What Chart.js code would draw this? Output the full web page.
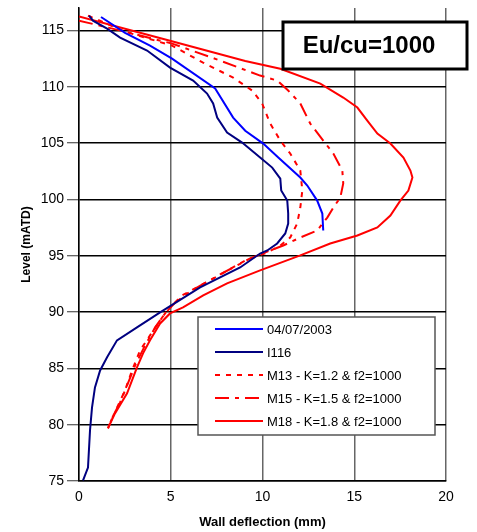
<!DOCTYPE html>
<html>
<head>
<meta charset="utf-8">
<script src="https://cdn.jsdelivr.net/npm/chart.js@4"></script>
<style>
  html, body { margin: 0; padding: 0; background: #fff; }
  #wrap { width: 477px; height: 532px; }
</style>
</head>
<body>
<div id="wrap"><canvas id="chartDeflection" width="477" height="532"></canvas></div>
<script>
// ---- data (deflection mm, level mATD) ----
const blueX = [1.20, 2.51, 3.87, 5.07, 7.42, 8.40, 9.06, 10.04, 10.86, 12.06, 12.44, 12.98, 13.26, 13.31];
const blueY = [116.2, 114.8, 113.66, 112.5, 109.85, 107.27, 106.1, 104.96, 103.72, 101.95, 101.24, 99.9, 98.75, 97.24];

const i116X = [0.55, 0.76, 1.53, 2.24, 3.71, 4.96, 6.22, 6.98, 7.31, 7.53, 8.07, 8.89, 9.87, 10.53, 10.97, 11.02, 11.35, 11.40, 11.40, 11.24, 10.80, 10.26, 9.87, 8.78, 6.60, 4.42, 3.16, 2.07, 1.53, 1.15, 0.87, 0.71, 0.60, 0.49, 0.22];
const i116Y = [116.32, 115.88, 115.17, 114.37, 113.22, 111.71, 110.56, 109.4, 108.52, 107.27, 105.94, 105.05, 103.72, 102.83, 101.85, 100.79, 99.9, 98.75, 97.86, 96.98, 96.09, 95.47, 95.2, 93.96, 92.19, 89.97, 88.64, 87.49, 85.98, 84.82, 83.31, 81.54, 79.5, 76.2, 75.06];

const m13X = [0.49, 2.51, 5.07, 6.76, 8.40, 9.44, 9.98, 10.42, 10.97, 11.51, 12.06, 12.17, 12.06, 11.89, 11.51, 10.97, 10.26, 9.06, 7.42, 5.62, 5.07, 4.53, 3.87, 3.33, 2.89, 2.51, 2.13, 1.80, 1.58];
const m13Y = [116.32, 114.9, 113.66, 112.15, 110.82, 109.67, 108.52, 106.74, 105.23, 104.08, 102.57, 100.79, 99.28, 97.86, 96.62, 95.91, 95.29, 94.58, 93.07, 91.48, 90.59, 89.52, 87.93, 86.6, 84.82, 83.05, 81.72, 80.56, 79.68];

const m15X = [0, 2.51, 5.07, 7.69, 9.87, 10.80, 11.40, 12.06, 12.60, 13.31, 13.86, 14.35, 14.40, 14.24, 13.86, 13.53, 12.98, 12.06, 11.13, 10.42, 9.33, 7.69, 6.06, 5.24, 4.69, 4.15, 3.60, 3.06, 2.62, 2.24, 1.85, 1.58];
const m15Y = [115.88, 114.9, 113.84, 112.33, 111.0, 110.56, 109.67, 108.52, 106.74, 105.23, 104.08, 102.57, 101.42, 100.17, 99.28, 98.39, 97.24, 96.62, 95.91, 95.47, 94.76, 93.34, 91.83, 90.85, 89.88, 88.64, 87.04, 85.27, 83.49, 81.98, 80.74, 79.68];

const m18X = [0, 4.96, 9.06, 10.97, 13.15, 14.40, 15.17, 15.71, 16.26, 16.97, 17.68, 18.06, 18.17, 17.95, 17.51, 16.97, 16.26, 15.17, 13.69, 12.06, 9.87, 8.07, 6.77, 5.67, 4.96, 4.42, 3.87, 3.49, 3.16, 2.62, 1.96, 1.58];
const m18Y = [116.24, 114.1, 112.3, 111.6, 110.29, 109.05, 108.16, 107.0, 105.85, 104.97, 103.72, 102.57, 101.95, 100.79, 99.9, 98.57, 97.51, 96.8, 96.09, 95.03, 93.7, 92.55, 91.48, 90.41, 89.88, 88.99, 87.49, 86.33, 85.09, 82.78, 81.0, 79.68];

const seriesNames = ["04/07/2003", "I116", "M13 - K=1.2 & f2=1000", "M15 - K=1.5 & f2=1000", "M18 - K=1.8 & f2=1000"];
const xTicks = [0, 5, 10, 15, 20];
const yTicks = [75, 80, 85, 90, 95, 100, 105, 110, 115];
const chartLabel = "Eu/cu=1000";

const toPts = (xs, ys) => xs.map((x, i) => ({ x: x, y: ys[i] }));

const styles = [
  { color: "#0000ff", dash: [] },
  { color: "#000080", dash: [] },
  { color: "#ff0000", dash: [5, 6] },
  { color: "#ff0000", dash: [14, 6, 4, 6] },
  { color: "#ff0000", dash: [] }
];
const pts = [toPts(blueX, blueY), toPts(i116X, i116Y), toPts(m13X, m13Y), toPts(m15X, m15Y), toPts(m18X, m18Y)];

// legend inside the plot + framed label top right
const boxesPlugin = {
  id: "boxes",
  afterDatasetsDraw(chart) {
    const c = chart.ctx;
    c.save();
    // label box
    c.fillStyle = "#fff";
    c.fillRect(283, 22, 184, 47);
    c.strokeStyle = "#000";
    c.lineWidth = 3;
    c.strokeRect(283, 22, 184, 47);
    c.fillStyle = "#000";
    c.font = "bold 24px 'Liberation Sans', Arial, sans-serif";
    c.textAlign = "center";
    c.textBaseline = "middle";
    c.fillText(chartLabel, 369, 46);

    // legend
    c.fillStyle = "#fff";
    c.fillRect(198, 317, 237, 118);
    c.strokeStyle = "#555";
    c.lineWidth = 1.5;
    c.strokeRect(198, 317, 237, 118);
    c.font = "13px 'Liberation Sans', Arial, sans-serif";
    c.textAlign = "left";
    chart.data.datasets.forEach((ds, i) => {
      const y = 329 + i * 23;
      c.strokeStyle = ds.borderColor;
      c.lineWidth = 2;
      c.setLineDash(ds.borderDash || []);
      c.beginPath();
      c.moveTo(215, y);
      c.lineTo(263, y);
      c.stroke();
      c.setLineDash([]);
      c.fillStyle = "#000";
      c.fillText(ds.label, 267, y + 1);
    });
    c.restore();
  }
};

new Chart(document.getElementById("chartDeflection"), {
  type: "scatter",
  data: {
    datasets: pts.map((p, i) => ({
      label: seriesNames[i],
      data: p,
      showLine: true,
      borderColor: styles[i].color,
      backgroundColor: styles[i].color,
      borderDash: styles[i].dash,
      borderWidth: 2,
      pointRadius: 0,
      tension: 0
    }))
  },
  options: {
    responsive: false,
    animation: false,
    layout: { padding: { top: 8, right: 31, left: 0, bottom: 0 } },
    plugins: { legend: { display: false }, tooltip: { enabled: false } },
    scales: {
      x: {
        type: "linear",
        min: 0, max: 20,
        afterBuildTicks: s => { s.ticks = xTicks.map(v => ({ value: v })); },
        afterFit: s => { s.height = 51; },
        grid: { color: "#666", lineWidth: 1.5, drawTicks: false },
        border: { color: "#000", width: 1.5 },
        ticks: { padding: 8, color: "#000", font: { family: "'Liberation Sans', Arial", size: 14 } },
        title: { display: true, text: "Wall deflection (mm)", color: "#000", padding: { top: 6, bottom: 2 },
                 font: { family: "'Liberation Sans', Arial", size: 13, weight: "bold" } }
      },
      y: {
        type: "linear",
        min: 75, max: 117,
        afterBuildTicks: s => { s.ticks = yTicks.map(v => ({ value: v })); },
        afterFit: s => { s.width = 79; s.paddingTop = 0; s.paddingBottom = 0; },
        grid: { color: "#000", lineWidth: 1.5, drawTicks: true, tickLength: 12, tickColor: "#333", tickWidth: 1 },
        border: { color: "#000", width: 1.5 },
        ticks: { padding: 3, color: "#000", font: { family: "'Liberation Sans', Arial", size: 14 } },
        title: { display: true, text: "Level (mATD)", color: "#000", padding: { top: 19, bottom: 0 },
                 font: { family: "'Liberation Sans', Arial", size: 12, weight: "bold" } }
      }
    }
  },
  plugins: [boxesPlugin]
});
</script>
</body>
</html>
